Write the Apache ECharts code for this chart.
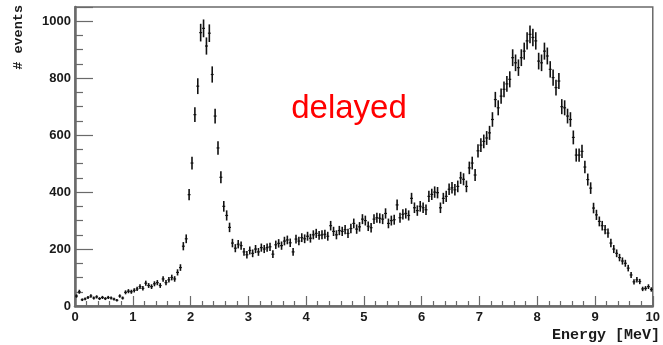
<!DOCTYPE html>
<html>
<head>
<meta charset="utf-8">
<script src="https://cdn.jsdelivr.net/npm/echarts@6/dist/echarts.min.js"></script>
<style>
  html, body { margin: 0; padding: 0; background: #fff; }
  #main { width: 663px; height: 345px; }
</style>
</head>
<body>
<div id="main"></div>
<script>
// histogram: 200 bins of 0.05 MeV from 0 to 10
var binStart = 0;
var binWidth = 0.05;

// counts per bin (one array per 2 MeV)
var counts0to2 = [35, 50, 22, 25, 30, 35, 28, 32, 26, 30, 26, 30, 28, 24, 20, 35, 28, 48, 52, 50,
                  55, 60, 68, 62, 80, 72, 68, 78, 82, 72, 95, 82, 92, 100, 95, 118, 135, 210, 236, 391];
var counts2to4 = [502, 672, 772, 960, 975, 913, 958, 813, 667, 555, 452, 350, 318, 276, 221, 203, 217, 212, 190, 180,
                  195, 185, 200, 190, 205, 200, 205, 208, 182, 215, 220, 212, 228, 232, 222, 190, 235, 228, 240, 236];
var counts4to6 = [245, 238, 250, 255, 248, 250, 252, 245, 282, 262, 250, 265, 262, 268, 255, 272, 290, 270, 278, 305,
                  300, 280, 275, 305, 310, 308, 305, 325, 290, 300, 303, 355, 310, 322, 325, 318, 378, 345, 335, 350];
var counts6to8 = [345, 338, 385, 392, 400, 398, 345, 378, 385, 410, 415, 408, 420, 450, 445, 420, 485, 502, 460, 545,
                  565, 578, 590, 608, 655, 725, 696, 737, 761, 780, 796, 872, 854, 837, 872, 895, 931, 954, 943, 931];
var counts8to10 = [860, 854, 895, 878, 831, 802, 767, 790, 700, 696, 667, 655, 592, 530, 530, 543, 488, 444, 414, 344,
                   320, 297, 282, 268, 256, 221, 200, 185, 170, 158, 150, 133, 109, 85, 92, 86, 60, 62, 68, 58];

var xTicks = [0, 1, 2, 3, 4, 5, 6, 7, 8, 9, 10];
var yTicks = [0, 200, 400, 600, 800, 1000];

var counts = counts0to2.concat(counts2to4, counts4to6, counts6to8, counts8to10);

// [bin centre, count, poisson error]
var data = [];
for (var i = 0; i < counts.length; i++) {
  var x = binStart + binWidth * (i + 0.5);
  data.push([x, counts[i], Math.sqrt(counts[i])]);
}

var chart = echarts.init(document.getElementById('main'), null, { renderer: 'canvas' });

var frameColor = '#6a6a6a';
var labelFont = { color: '#1a1a1a', fontSize: 13, fontWeight: 'bold', fontFamily: 'Liberation Sans' };

var option = {
  animation: false,
  backgroundColor: '#fff',
  grid: {
    left: 75, right: 5, top: 7, bottom: 39,
    show: true, borderColor: frameColor, borderWidth: 1.5, backgroundColor: '#fff'
  },
  xAxis: {
    type: 'value',
    min: xTicks[0], max: xTicks[xTicks.length - 1], interval: 1,
    axisLine: { onZero: false, lineStyle: { color: frameColor, width: 2.5 } },
    axisTick: { inside: true, length: 10, lineStyle: { color: frameColor, width: 1.2 } },
    minorTick: { show: true, splitNumber: 5, length: 5, lineStyle: { color: frameColor, width: 1.2 } },
    splitLine: { show: false },
    axisLabel: Object.assign({ margin: 5, formatter: function (v) { return String(v); } }, labelFont)
  },
  yAxis: {
    type: 'value',
    min: yTicks[0], max: 1050, interval: 200,
    axisLine: { onZero: false, lineStyle: { color: frameColor, width: 2.5 } },
    axisTick: { inside: true, length: 18, lineStyle: { color: frameColor, width: 1.2 } },
    minorTick: { show: true, splitNumber: 4, length: 8, lineStyle: { color: frameColor, width: 1.2 } },
    splitLine: { show: false },
    axisLabel: Object.assign({
      margin: 4, showMaxLabel: false,
      formatter: function (v) { return yTicks.indexOf(v) >= 0 ? String(v) : ''; }
    }, labelFont)
  },
  series: [{
    type: 'custom',
    data: data,
    renderItem: function (params, api) {
      var x = api.value(0), y = api.value(1), e = api.value(2);
      var top = api.coord([x, y + e]);
      var bot = api.coord([x, y - e]);
      var l = api.coord([x - binWidth / 2, y]);
      var r = api.coord([x + binWidth / 2, y]);
      return {
        type: 'group',
        children: [
          { type: 'line', shape: { x1: top[0], y1: top[1], x2: bot[0], y2: bot[1] },
            style: { stroke: '#111', lineWidth: 1.6 } },
          { type: 'line', shape: { x1: l[0], y1: l[1], x2: r[0], y2: r[1] },
            style: { stroke: '#111', lineWidth: 1.2 } }
        ]
      };
    }
  }],
  graphic: [
    { type: 'text', x: 349, y: 109,
      style: { text: 'delayed', fill: '#ff0000', font: '33px "Liberation Sans"', textAlign: 'center', textVerticalAlign: 'middle' } },
    { type: 'text', x: 660, y: 335,
      style: { text: 'Energy [MeV]', fill: '#1a1a1a', font: 'bold 15px "Liberation Mono"', textAlign: 'right', textVerticalAlign: 'middle' } },
    { type: 'text', x: 19, y: 5, rotation: Math.PI / 2,
      style: { text: '# events', fill: '#1a1a1a', font: 'bold 13.5px "Liberation Mono"', textAlign: 'right', textVerticalAlign: 'middle' } }
  ]
};

chart.setOption(option);
</script>
</body>
</html>
